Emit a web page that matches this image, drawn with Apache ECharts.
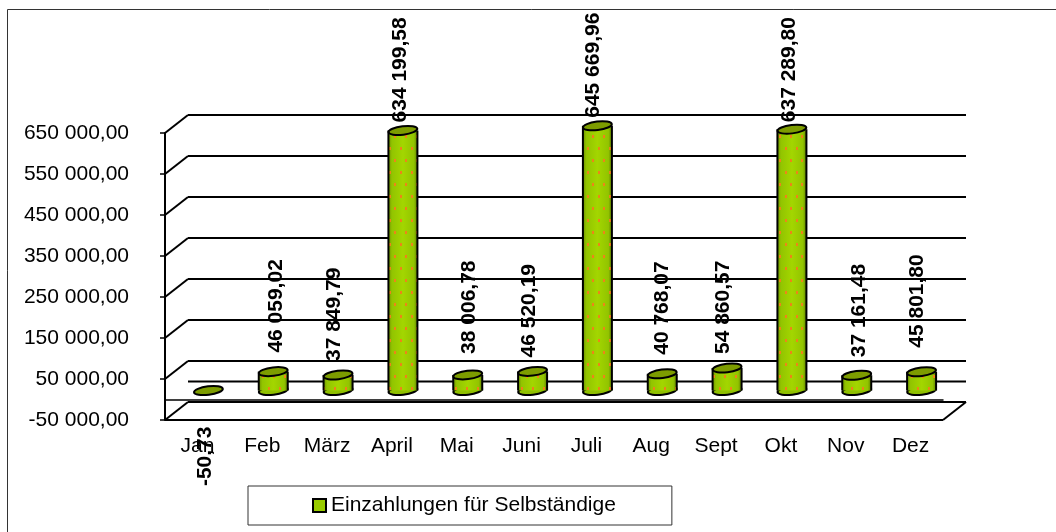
<!DOCTYPE html>
<html>
<head>
<meta charset="utf-8">
<style>
  html, body { margin: 0; padding: 0; background: #fff; }
  #chart { width: 1056px; height: 532px; }
</style>
<script src="https://cdn.jsdelivr.net/npm/echarts@6/dist/echarts.min.js"></script>
</head>
<body>
<div id="chart"></div>
<script>
  var months = ['Jan', 'Feb', 'März', 'April', 'Mai', 'Juni', 'Juli', 'Aug', 'Sept', 'Okt', 'Nov', 'Dez'];
  var payments = [-50.73, 46059.02, 37849.79, 634199.58, 38006.78, 46520.19, 645669.96, 40768.07, 54860.57, 637289.80, 37161.48, 45801.80];
  var yTicks = [-50000, 50000, 150000, 250000, 350000, 450000, 550000, 650000];
  var seriesName = 'Einzahlungen für Selbständige';

  // the original places the value labels unevenly: gap above the bar top, shift from the bar centre
  var labelGaps = [9, 19, 14, 8, 21, 14, 8, 19, 14, 7, 18, 24];
  var labelShifts = [-3, 2.5, -3.5, -3, 1.5, -3.5, -4, 0, -4, -3, 2, -4];

  var fontFamily = '"Liberation Sans", Arial, sans-serif';
  // fake 3d depth of the original: back wall and bar plane offsets
  var depth = { x: 23, y: -18 };
  var barPlane = { x: 11, y: -9 };
  var barHalf = 14.5;
  var capRy = 4.2;
  var capTilt = 0.12;

  // german number format, 650 000,00
  function fmt(v) {
    var parts = Math.abs(v).toFixed(2).split('.');
    var whole = parts[0].replace(/\B(?=(\d{3})+$)/g, ' ');
    return (v < 0 ? '-' : '') + whole + ',' + parts[1];
  }

  // small orange specks laid over the bars
  function speckles() {
    var c = document.createElement('canvas');
    c.width = 22;
    c.height = 24;
    var g = c.getContext('2d');
    g.fillStyle = '#ee8418';
    g.fillRect(4, 3, 2, 3);
    g.fillRect(15, 3, 2, 3);
    g.fillRect(9, 15, 2, 3);
    g.fillRect(20, 15, 2, 3);
    return c;
  }
  var speckleImg = speckles();

  var bodyFill = new echarts.graphic.LinearGradient(0, 0, 1, 0, [
    { offset: 0, color: '#6f9400' },
    { offset: 0.12, color: '#92c400' },
    { offset: 0.5, color: '#a3d600' },
    { offset: 0.88, color: '#92c400' },
    { offset: 1, color: '#5f8000' }
  ]);

  function renderWall(params, api) {
    var v = api.value(0);
    var p = api.coord([0, v]);
    var left = params.coordSys.x;
    var right = left + params.coordSys.width;
    var line = { stroke: '#000', lineWidth: 2 };
    var children = [
      { type: 'line', shape: { x1: left + depth.x, y1: p[1] + depth.y, x2: right + depth.x, y2: p[1] + depth.y }, style: line }
    ];
    // zero line has no side wall diagonal
    if (v !== 0) {
      children.push({ type: 'line', shape: { x1: left, y1: p[1], x2: left + depth.x, y2: p[1] + depth.y }, style: line });
    }
    // floor front edge and its right side
    if (v === yTicks[0]) {
      children.push({ type: 'line', shape: { x1: left, y1: p[1], x2: right, y2: p[1] }, style: line });
      children.push({ type: 'line', shape: { x1: right, y1: p[1], x2: right + depth.x, y2: p[1] + depth.y }, style: line });
    }
    return { type: 'group', children: children };
  }

  function renderBar(params, api) {
    var idx = api.value(0);
    var val = api.value(1);
    var base = api.coord([idx, 0]);
    var top = api.coord([idx, val]);
    var cx = base[0] + barPlane.x;
    var y0 = base[1] + barPlane.y;
    var y1 = top[1] + barPlane.y;
    var line = { stroke: '#000', lineWidth: 2 };
    var children = [];

    if (val > 0) {
      children.push({
        type: 'ellipse',
        shape: { cx: cx, cy: y0, rx: barHalf, ry: capRy },
        originX: cx, originY: y0, rotation: capTilt,
        style: { fill: '#8fbf00', stroke: '#000', lineWidth: 2 }
      });
      children.push({
        type: 'rect',
        shape: { x: cx - barHalf, y: y1, width: barHalf * 2, height: y0 - y1 },
        style: { fill: bodyFill }
      });
      children.push({
        type: 'rect',
        shape: { x: cx - barHalf, y: y1, width: barHalf * 2, height: y0 - y1 },
        style: { fill: { image: speckleImg, repeat: 'repeat' } }
      });
      children.push({ type: 'line', shape: { x1: cx - barHalf, y1: y1, x2: cx - barHalf, y2: y0 }, style: line });
      children.push({ type: 'line', shape: { x1: cx + barHalf, y1: y1, x2: cx + barHalf, y2: y0 }, style: line });
    }
    children.push({
      type: 'ellipse',
      shape: { cx: cx, cy: y1, rx: barHalf, ry: capRy },
      originX: cx, originY: y1, rotation: capTilt,
      style: { fill: '#7d9c00', stroke: '#000', lineWidth: 2 }
    });
    var labelY = val > 0 ? y1 - labelGaps[idx] : y1 + 36;
    children.push({
      type: 'text',
      x: cx + labelShifts[idx],
      y: labelY,
      rotation: Math.PI / 2,
      style: {
        text: fmt(val),
        font: 'bold 21px ' + fontFamily,
        fill: '#000',
        textAlign: val > 0 ? 'left' : 'right',
        textVerticalAlign: 'middle'
      }
    });
    return { type: 'group', children: children };
  }

  var chart = echarts.init(document.getElementById('chart'), null, { renderer: 'canvas' });
  chart.setOption({
    animation: false,
    backgroundColor: '#fff',
    grid: { left: 165, right: 113, top: 133, bottom: 112 },
    legend: {
      left: 248,
      top: 486,
      padding: [9, 56, 9, 64],
      borderColor: '#333',
      borderWidth: 1,
      itemWidth: 13,
      itemHeight: 13,
      itemGap: 0,
      textStyle: { fontFamily: fontFamily, fontSize: 21, color: '#000', padding: [0, 0, 0, 0] },
      data: [{
        name: seriesName,
        icon: 'rect',
        itemStyle: { color: '#99cc00', borderColor: '#000', borderWidth: 2 }
      }]
    },
    xAxis: {
      type: 'category',
      data: months,
      axisLine: { onZero: true, lineStyle: { color: '#000', width: 1.5 } },
      axisTick: { alignWithLabel: false, length: 5, lineStyle: { color: '#000', width: 1.5 } },
      axisLabel: { interval: 0, margin: 16, fontFamily: fontFamily, fontSize: 21, color: '#000' }
    },
    yAxis: {
      type: 'value',
      min: -50000,
      max: 650000,
      axisLine: { show: true, onZero: false, lineStyle: { color: '#000', width: 2 } },
      axisTick: { show: true, customValues: yTicks, length: 5, lineStyle: { color: '#000', width: 1.5 } },
      axisLabel: {
        customValues: yTicks,
        margin: 36,
        fontFamily: fontFamily,
        fontSize: 21,
        color: '#000',
        formatter: fmt
      },
      splitLine: { show: false }
    },
    // chart frame runs off the picture at right and bottom, only top and left show
    graphic: [{
      type: 'polyline',
      z: -1,
      shape: { points: [[7.5, 532], [7.5, 9.5], [1056, 9.5]] },
      style: { fill: 'none', stroke: '#333', lineWidth: 1 }
    }],
    series: [
      {
        type: 'custom',
        silent: true,
        z: 1,
        coordinateSystem: 'cartesian2d',
        renderItem: renderWall,
        // back wall rules sit on the ticks, plus the zero line
        data: yTicks.concat([0]).map(function (t) { return [t]; }),
        encode: { y: 0 }
      },
      {
        type: 'custom',
        name: seriesName,
        z: 3,
        coordinateSystem: 'cartesian2d',
        renderItem: renderBar,
        itemStyle: { color: '#99cc00' },
        data: payments.map(function (v, i) { return [i, v]; }),
        encode: { x: 0, y: 1 }
      }
    ]
  });
</script>
</body>
</html>
